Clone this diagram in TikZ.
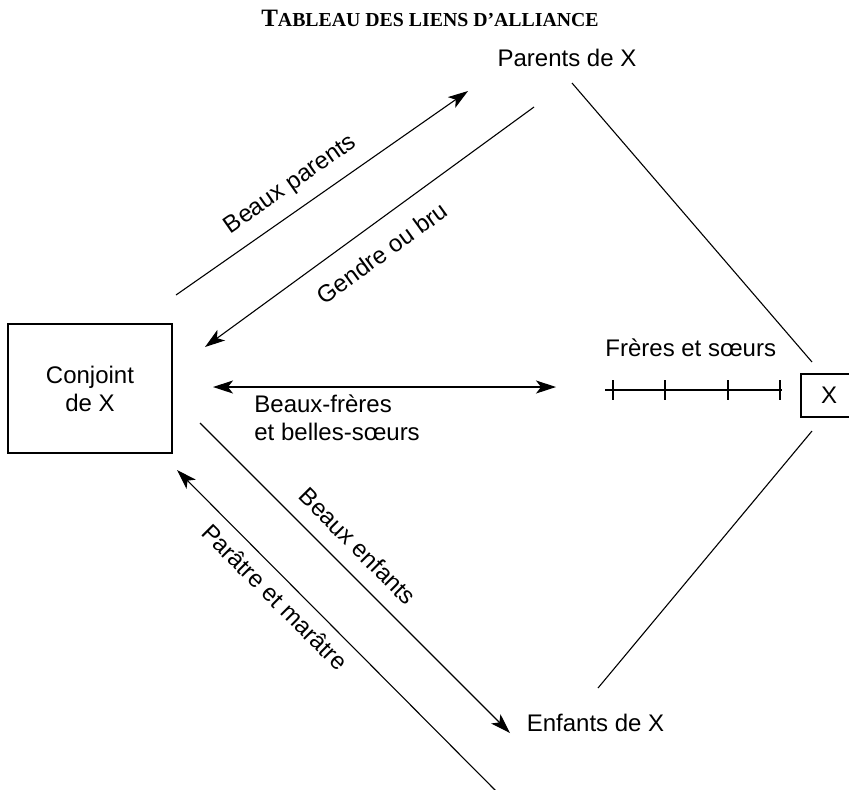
\documentclass[tikz,border=0pt]{standalone}
\usepackage{fontspec}
\setmainfont{Liberation Sans}
\newfontfamily\titlefont{Liberation Serif}
\usetikzlibrary{arrows.meta}

\begin{document}
\begin{tikzpicture}[x=0.5pt, y=-0.5pt,
  lbl/.style={font=\fontsize{12}{14}\selectfont, inner sep=0pt},
  box/.style={draw, line width=0.7pt, font=\fontsize{12}{14}\selectfont, align=center},
  lien/.style={line width=0.55pt},
  arr/.style={lien, -{Stealth[length=10pt, width=6.5pt, inset=2.5pt]}},
  darr/.style={lien, {Stealth[length=10pt, width=6.5pt, inset=2.5pt]}-{Stealth[length=10pt, width=6.5pt, inset=2.5pt]}}]
\useasboundingbox (0,0) rectangle (849,789);

% Title
\node[inner sep=0pt, anchor=base, font=\titlefont\bfseries] (titre) at (430,26)
  {\fontsize{12.5}{14}\selectfont T\fontsize{9.9}{12}\selectfont ABLEAU DES LIENS D’ALLIANCE};

% Main nodes
\node[box, minimum width=82pt, minimum height=64.5pt] (conjoint) at (90,388.5) {Conjoint\\de X};
\node[box, minimum width=28pt, minimum height=21.5pt] (x) at (829,395.5) {X};
\node[lbl, anchor=base] (parents) at (567,66) {Parents de X};
\node[lbl, anchor=base] (enfants) at (595.5,731) {Enfants de X};
\node[lbl, anchor=base west] (freres) at (605,356) {Frères et sœurs};

% End points of the connectors
\coordinate (bp1) at (176,295);  \coordinate (bp2) at (468,91);
\coordinate (gb1) at (534,107);  \coordinate (gb2) at (205,347);
\coordinate (bf1) at (213,387);  \coordinate (bf2) at (556,387);
\coordinate (be1) at (200,423);  \coordinate (be2) at (510,733);
\coordinate (pm1) at (497,792);  \coordinate (pm2) at (177,470);
\coordinate (px1) at (572,83);   \coordinate (px2) at (812,362);
\coordinate (xe1) at (812,431);  \coordinate (xe2) at (598,688);
\coordinate (fs1) at (605,390);  \coordinate (fs2) at (782,390);

% Links of X
\draw[lien] (px1) -- (px2);
\draw[lien] (xe1) -- (xe2);
\draw[lien] (fs1) -- (fs2);
\foreach \t in {613,665,728,780}
  \draw[lien] (\t,380) -- (\t,400);

% Alliance arrows
\draw[arr] (bp1) -- (bp2);
\draw[arr] (gb1) -- (gb2);
\draw[darr] (bf1) -- (bf2);
\draw[arr] (be1) -- (be2);
\draw[arr] (pm1) -- (pm2);

% Labels
\node[lbl, rotate=35] (bplbl) at (291,185) {Beaux parents};
\node[lbl, rotate=36] (gblbl) at (382,253) {Gendre ou bru};
\node[lbl, anchor=base west, align=left] (bflbl) at (254,440) {Beaux-frères\\et belles-sœurs};
\node[lbl, rotate=-45] (belbl) at (358,546) {Beaux enfants};
\node[lbl, rotate=-45] (pmlbl) at (275,597) {Parâtre et marâtre};
\end{tikzpicture}
\end{document}
